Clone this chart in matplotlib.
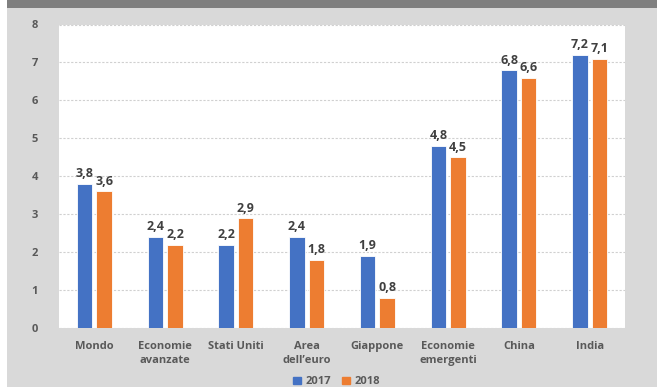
import numpy as np
import matplotlib
matplotlib.use("Agg")
import matplotlib.pyplot as plt
from matplotlib.patches import Rectangle, Patch

plt.rcParams['font.family'] = ['Open Sans', 'DejaVu Sans']

# data
categories = ["Mondo", "Economie\navanzate", "Stati Uniti", "Area\ndell\u2019euro",
              "Giappone", "Economie\nemergenti", "China", "India"]
years = ["2017", "2018"]
vals_2017 = [3.8, 2.4, 2.2, 2.4, 1.9, 4.8, 6.8, 7.2]
vals_2018 = [3.6, 2.2, 2.9, 1.8, 0.8, 4.5, 6.6, 7.1]

blue = "#4472C4"
orange = "#ED7D31"
txt_gray = "#595959"

fig = plt.figure(figsize=(6.57, 3.87), dpi=100)
fig.patch.set_facecolor("white")

# gray panel and dark title band
fig.patches.append(Rectangle((7/657, 0), 1 - 7/657, 1 - 8/387, transform=fig.transFigure,
                             facecolor="#d9d9d9", edgecolor="none", zorder=-5))
fig.patches.append(Rectangle((7/657, 1 - 8/387), 1 - 7/657, 8/387, transform=fig.transFigure,
                             facecolor="#7f7f7f", edgecolor="none", zorder=-5))

ax = fig.add_axes([59/657, 1 - 328/387, (625 - 59)/657, (328 - 24.5)/387])
ax.set_facecolor("white")

x = np.arange(len(categories))
w = 0.22
off = 0.139
b1 = ax.bar(x - off, vals_2017, w, color=blue, edgecolor="white", linewidth=0.6, zorder=3)
b2 = ax.bar(x + off, vals_2018, w, color=orange, edgecolor="white", linewidth=0.6, zorder=3)

fs = 8
for bars, vals in [(b1, vals_2017), (b2, vals_2018)]:
    for rect, v in zip(bars, vals):
        ax.annotate(f"{v:.1f}".replace(".", ","),
                    (rect.get_x() + rect.get_width() / 2, rect.get_height()),
                    xytext=(0, 2.5), textcoords="offset points", ha="center", va="bottom",
                    fontsize=9, fontweight="bold", color="#404040")

ax.set_xlim(-0.5, len(categories) - 0.5)
ax.set_ylim(0, 8)
ax.set_yticks(range(0, 9))
ax.yaxis.grid(True, color="#d0d0d0", linestyle=(0, (2, 1.5)), linewidth=0.8, zorder=0)
ax.set_axisbelow(True)
for s in ax.spines.values():
    s.set_visible(False)

ax.set_xticks(x)
ax.set_xticklabels(categories, fontsize=fs, fontweight="bold", color=txt_gray, linespacing=1.4)
ax.tick_params(axis="x", length=0, pad=9.5)
ax.tick_params(axis="y", length=0, pad=15, labelsize=fs, labelcolor=txt_gray)
for lab in ax.get_yticklabels():
    lab.set_fontweight("bold")

handles = [Patch(color=blue), Patch(color=orange)]
leg = fig.legend(handles, years, loc="center", bbox_to_anchor=(0.512, 0.013), ncol=2,
                 frameon=False, handlelength=0.7, handleheight=0.7, handletextpad=0.4,
                 columnspacing=1.0, prop={"size": fs, "weight": "bold"})
for t in leg.get_texts():
    t.set_color(txt_gray)

fig.savefig("out.png", dpi=100, facecolor=fig.get_facecolor())
